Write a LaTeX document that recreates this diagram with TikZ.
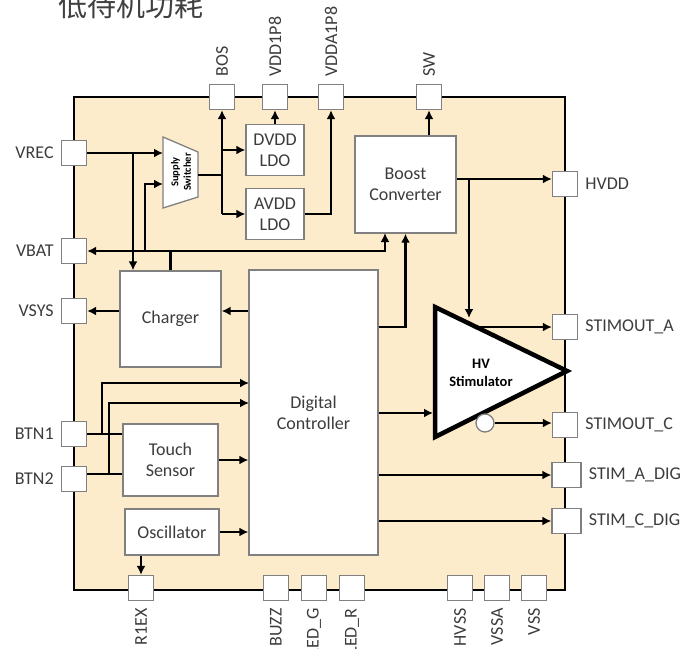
\documentclass[tikz,border=0pt]{standalone}
\usepackage{fontspec}
\setmainfont{Carlito}
\newfontfamily\cjk{Noto Sans CJK SC}
\usepackage{tikz}
\usetikzlibrary{arrows.meta,positioning,calc}
\definecolor{chipfill}{RGB}{253,236,203}
\definecolor{boxline}{RGB}{128,128,128}
\definecolor{txt}{RGB}{60,60,60}

\begin{document}
\begin{tikzpicture}[x=1pt, y=-1pt, >={Latex[length=9pt,width=9pt]},
  font=\fontsize{18}{21}\selectfont, text=txt,
  every label/.style={inner sep=0pt, text=txt}, label distance=7pt,
  pad/.style={draw=boxline, fill=white, line width=1.3pt, minimum size=25pt, inner sep=0pt},
  blk/.style={draw=boxline, fill=white, line width=1.3pt, inner sep=0pt, align=center},
  wire/.style={line width=2.6pt, ->},
  bus/.style={line width=2.6pt},
  tlab/.style={inner sep=0pt, rotate=90, anchor=west},
  blab/.style={inner sep=0pt, rotate=90, anchor=east}]
\useasboundingbox (0,0) rectangle (693,648);
\clip (0,0) rectangle (693,648);

\node(title)[font=\cjk\fontsize{29}{30}\selectfont, text=black!75, anchor=base west, inner sep=0pt] at (58,16) {低待机功耗};

% chip outline
\node(chip)[draw=black, line width=2.4pt, fill=chipfill, minimum width=491pt, minimum height=493pt, inner sep=0pt] at (319.5,343.5) {};

% pads, top
\node(bos)[pad] at (222,97) {};
\node(vdd1p8)[pad] at (275,97) {};
\node(vdda1p8)[pad] at (331,97) {};
\node(sw)[pad] at (429,97) {};
\node(bos-t)[tlab] at ([yshift=7pt]bos.north) {BOS};
\node(vdd1p8-t)[tlab] at ([yshift=7pt]vdd1p8.north) {VDD1P8};
\node(vdda1p8-t)[tlab] at ([yshift=7pt]vdda1p8.north) {VDDA1P8};
\node(sw-t)[tlab] at ([yshift=7pt]sw.north) {SW};
% pads, left
\node(vrec)[pad, label=left:VREC] at (74,153) {};
\node(vbat)[pad, label=left:VBAT] at (74,251) {};
\node(vsys)[pad, label=left:VSYS] at (74,311) {};
\node(btn1)[pad, label=left:BTN1] at (74,434) {};
\node(btn2)[pad, label=left:BTN2] at (74,479) {};
% pads, right
\node(hvdd)[pad, label=right:HVDD] at (565,184) {};
\node(stimouta)[pad, label=right:STIMOUT\_A] at (565,327) {};
\node(stimoutc)[pad, label=right:STIMOUT\_C] at (565,425) {};
\node(stimadig)[pad, minimum width=29pt, label=right:STIM\_A\_DIG] at (566.5,475) {};
\node(stimcdig)[pad, minimum width=29pt, label=right:STIM\_C\_DIG] at (566.5,521) {};
% pads, bottom
\node(r1ex)[pad] at (141,588) {};
\node(buzz)[pad] at (276,588) {};
\node(ledg)[pad] at (314,588) {};
\node(ledr)[pad] at (352,588) {};
\node(hvss)[pad] at (460,588) {};
\node(vssa)[pad] at (497,588) {};
\node(vss)[pad] at (534,588) {};
\node(r1ex-t)[blab] at ([yshift=-7pt]r1ex.south) {R1EX};
\node(buzz-t)[blab] at ([yshift=-7pt]buzz.south) {BUZZ};
\node(ledg-t)[blab] at ([yshift=-7pt]ledg.south) {LED\_G};
\node(ledr-t)[blab] at ([yshift=-7pt]ledr.south) {LED\_R};
\node(hvss-t)[blab] at ([yshift=-7pt]hvss.south) {HVSS};
\node(vssa-t)[blab] at ([yshift=-7pt]vssa.south) {VSSA};
\node(vss-t)[blab] at ([yshift=-7pt]vss.south) {VSS};

% blocks
\node(dvdd)[blk, minimum width=58pt, minimum height=51pt] at (275,150) {DVDD\\LDO};
\node(avdd)[blk, minimum width=58pt, minimum height=51pt] at (275,214) {AVDD\\LDO};
\node(boost)[blk, minimum width=101pt, minimum height=97pt] at (405.5,184.5) {Boost\\Converter};
\node(charger)[blk, minimum width=101pt, minimum height=96pt] at (170.5,319) {Charger};
\node(ctrl)[blk, minimum width=129pt, minimum height=285pt] at (313.5,412.5) {Digital\\Controller};
\node(touch)[blk, minimum width=95pt, minimum height=72pt] at (170.5,460) {Touch\\Sensor};
\node(osc)[blk, minimum width=94pt, minimum height=46pt] at (172,532) {Oscillator};

% supply switcher
\draw[draw=boxline, fill=white, line width=1.3pt] (163,137) -- (198,152) -- (198,197) -- (163,208) -- cycle;
\node(supsw)[font=\bfseries\fontsize{10.5}{12.5}\selectfont, text=black, rotate=90, align=center, inner sep=0pt] at (181,172) {Supply\\Switcher};
\coordinate (swin1) at (163,153);
\coordinate (swin2) at (163,184);
\coordinate (swout) at (198,175);

% HV stimulator
\draw[line width=4.5pt, fill=white, line join=miter] (435,307) -- (567,371) -- (435,437) -- cycle;
\node(hvs)[font=\bfseries\fontsize{14.5}{18}\selectfont, text=black, align=center] at (481,373) {HV\\Stimulator};
\node(bubble)[circle, draw=boxline, fill=white, line width=1.3pt, minimum size=18pt, inner sep=0pt] at (485,423) {};

% Arrows
\coordinate (vrecj) at (133,153);
\coordinate (batj) at (145,251);
\coordinate (bstin1) at (385,233);
\draw[wire] (vrec.east) -- (swin1);
\draw[wire] (vrecj) -- (vrecj |- charger.north);
\draw[wire] (charger.north) |- (vbat.east);
\draw[wire] (charger.north |- vbat) -| (bstin1);
\draw[wire] (batj) |- (swin2);

\draw[bus] (swout) -- (swout -| bos);
\draw[wire] (bos |- avdd.west) -- (bos.south);
\draw[wire] (bos |- dvdd.west) -- (dvdd.west);
\draw[wire] (bos |- avdd.west) -- (avdd.west);
\draw[wire] (dvdd.north) -- (vdd1p8.south);
\draw[wire] (avdd.east) -| (vdda1p8.south);
\draw[wire] (sw.south |- boost.north) -- (sw.south);

\coordinate (hvj) at (469,179);
\coordinate (hvin1) at (469,318);
\coordinate (hvin2) at (433,413);
\coordinate (hvouta) at (480,327);
\draw[wire] (boost.east |- hvj) -- (hvdd.west |- hvj);
\draw[wire] (hvj) -- (hvin1);
\draw[wire] (ctrl.east |- stimouta) -| (boost.south);
\draw[wire] (ctrl.west |- vsys) -- (charger.east |- vsys);
\draw[wire] (charger.west |- vsys) -- (vsys.east);
\draw[wire] (ctrl.east |- hvin2) -- (hvin2);
\draw[wire] (hvouta) -- (stimouta.west);
\draw[wire] (bubble.east) -- (bubble.east -| stimoutc.west);
\draw[wire] (ctrl.east |- stimadig) -- (stimadig.west);
\draw[wire] (ctrl.east |- stimcdig) -- (stimcdig.west);

\coordinate (b1j) at (102,434);
\coordinate (b2j) at (109,474);
\coordinate (ctrlin1) at (249,383);
\coordinate (ctrlin2) at (249,403);
\draw[bus] (btn1.east) -- (touch.west |- btn1);
\draw[bus] (btn2.east |- b2j) -- (touch.west |- b2j);
\draw[wire] (b1j) |- (ctrlin1);
\draw[wire] (b2j) |- (ctrlin2);
\draw[wire] (touch.east) -- (touch.east -| ctrl.west);
\draw[wire] (osc.east) -- (osc.east -| ctrl.west);
\draw[wire] (osc.south -| r1ex) -- (r1ex.north);
\end{tikzpicture}
\end{document}
